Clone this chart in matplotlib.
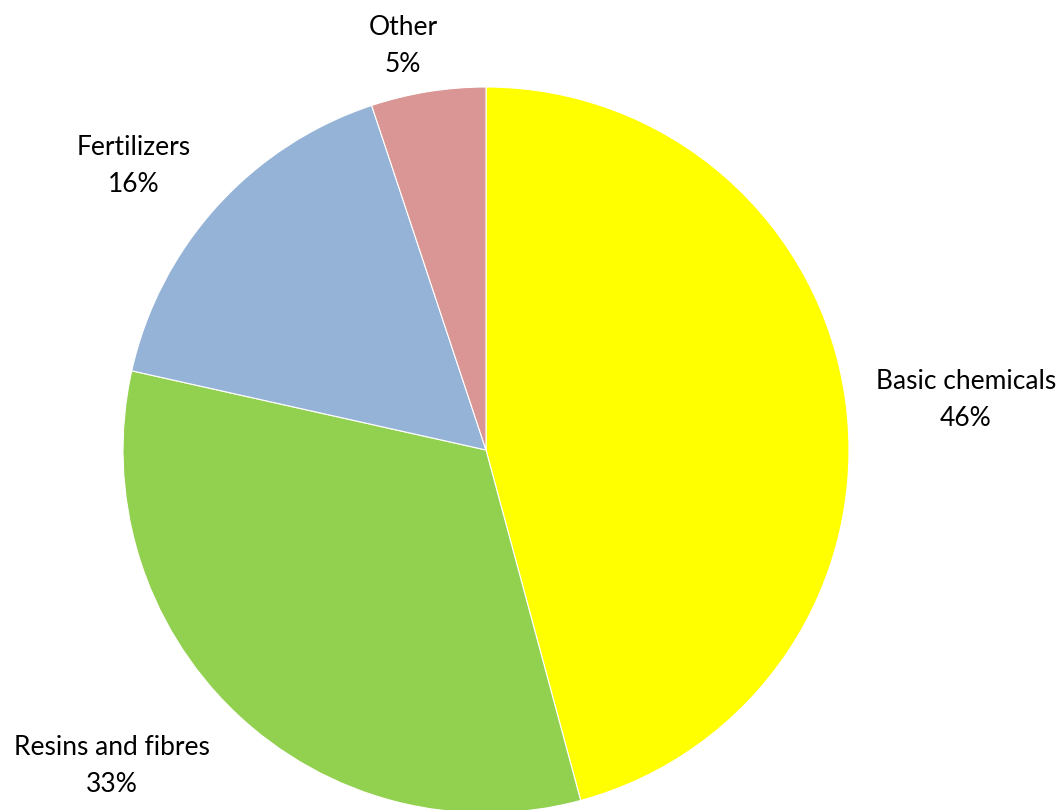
import matplotlib.pyplot as plt

# shares of the pie, clockwise from 12 o'clock (labels show them rounded)
sectors = ["Basic chemicals", "Resins and fibres", "Fertilizers", "Other"]
shares = [45.8, 32.7, 16.4, 5.1]
colours = ["#FFFF00", "#92D050", "#95B3D7", "#D99694"]

# label placement (centre of text block, in pie radii)
label_pos = [(1.322, 0.138), (-1.030, -0.871), (-0.970, 0.782), (-0.229, 1.113)]

plt.rcParams['font.family'] = ['Lato', 'DejaVu Sans']

fig = plt.figure(figsize=(10.6, 8.1), dpi=100)
ax = fig.add_axes([0, 0, 1, 1])

ax.pie(shares, colors=colours, startangle=90, counterclock=False,
       radius=1, center=(0, 0),
       wedgeprops=dict(edgecolor="white", linewidth=0.8))

for name, val, (x, y) in zip(sectors, shares, label_pos):
    ax.text(x, y, f"{name}\n{val:.0f}%", ha="center", va="center",
            fontsize=19, linespacing=1.6, color="black")

r = 363.0
ax.set_xlim(-486 / r, (1060 - 486) / r)
ax.set_ylim(-(810 - 450) / r, 450 / r)
ax.set_aspect("equal")
ax.axis("off")

fig.savefig("out.png", dpi=100)
